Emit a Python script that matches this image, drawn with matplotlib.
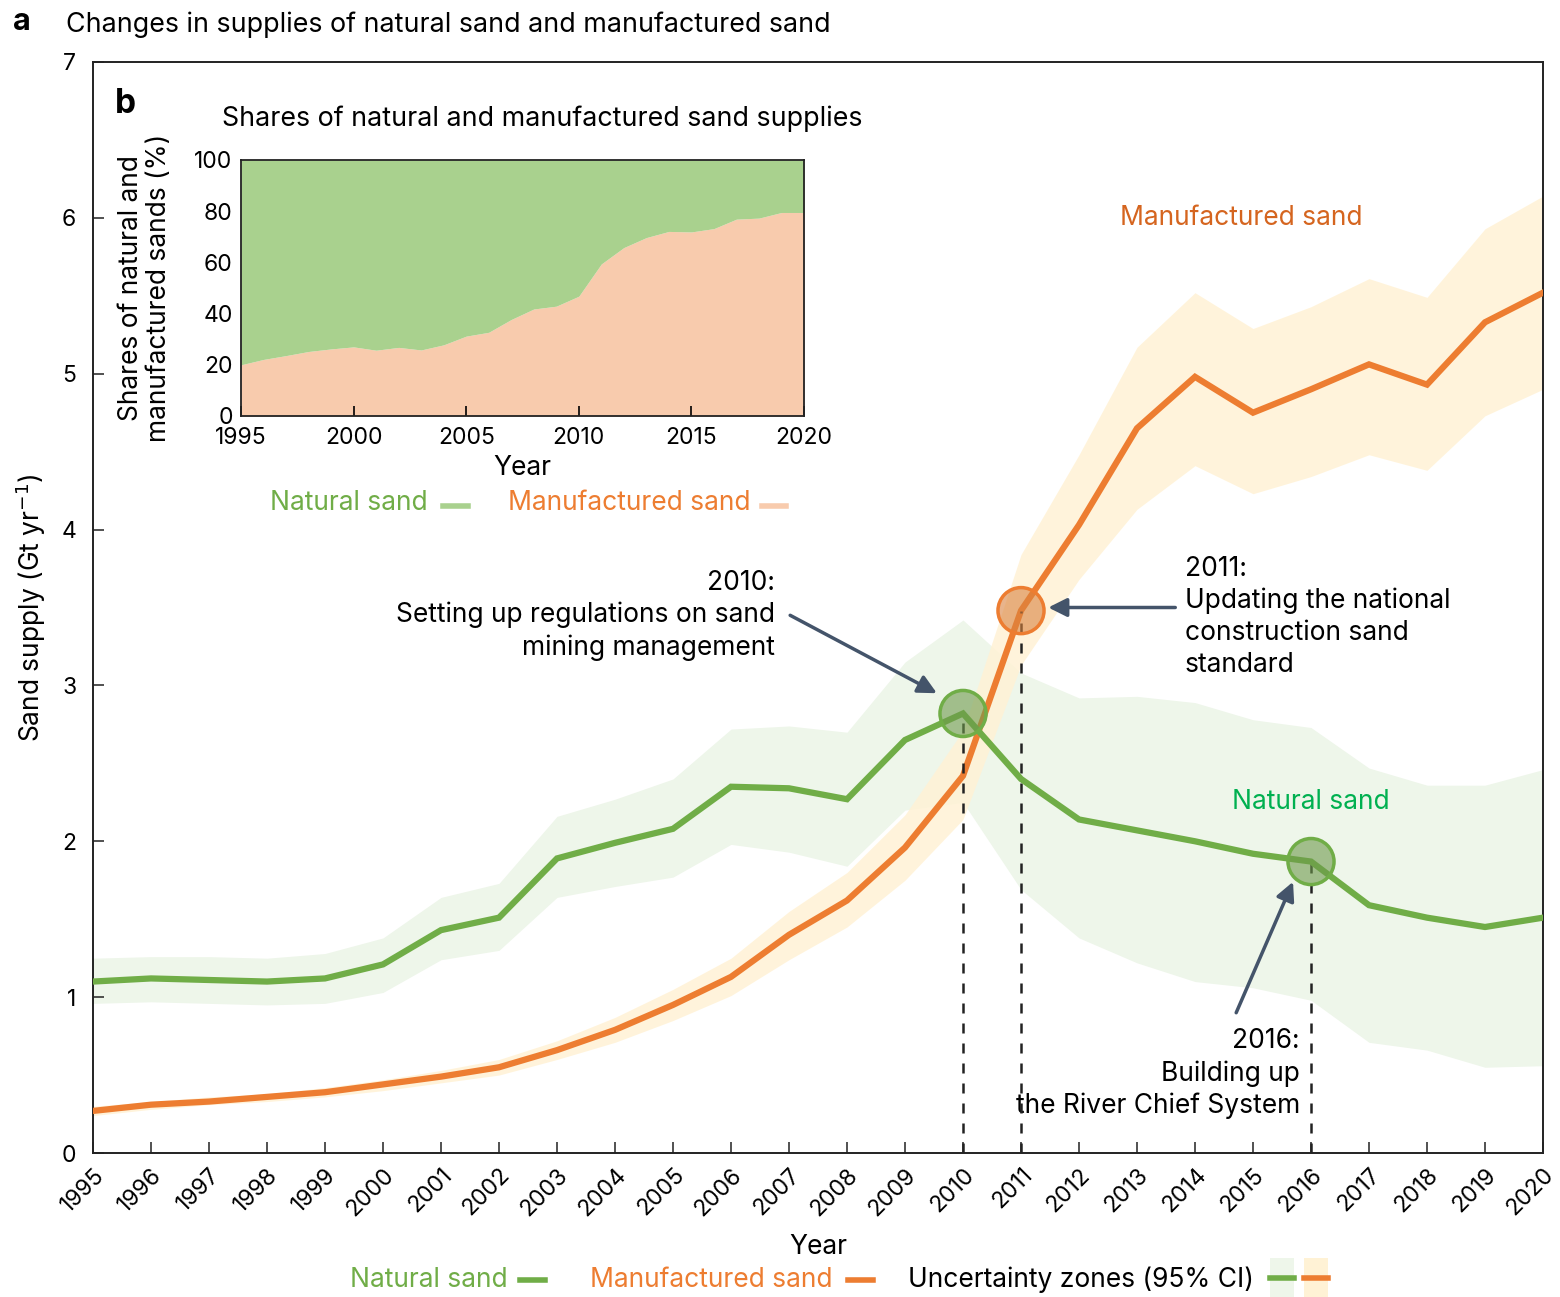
import numpy as np
import matplotlib.pyplot as plt
from matplotlib.patches import Rectangle
from matplotlib.lines import Line2D

plt.rcParams['font.family'] = ['Inter', 'DejaVu Sans']

years = list(range(1995, 2021))

# supply of natural sand (Gt/yr) and 95% CI
natural = [1.10, 1.12, 1.11, 1.10, 1.12, 1.21, 1.43, 1.51, 1.89, 1.99, 2.08, 2.35, 2.34,
           2.27, 2.65, 2.82, 2.40, 2.14, 2.07, 2.00, 1.92, 1.87, 1.59, 1.51, 1.45, 1.51]
natural_hi = [1.25, 1.26, 1.26, 1.25, 1.28, 1.38, 1.64, 1.73, 2.16, 2.27, 2.40, 2.72, 2.74,
              2.70, 3.15, 3.42, 3.08, 2.92, 2.93, 2.89, 2.78, 2.73, 2.47, 2.36, 2.36, 2.46]
natural_lo = [0.96, 0.97, 0.96, 0.95, 0.96, 1.03, 1.24, 1.30, 1.64, 1.71, 1.77, 1.98, 1.93,
              1.84, 2.20, 2.25, 1.69, 1.38, 1.22, 1.10, 1.06, 0.98, 0.71, 0.66, 0.55, 0.56]

# supply of manufactured sand (Gt/yr) and 95% CI
manufactured = [0.27, 0.31, 0.33, 0.36, 0.39, 0.44, 0.49, 0.55, 0.66, 0.79, 0.95, 1.13, 1.40,
                1.62, 1.96, 2.42, 3.48, 4.03, 4.65, 4.98, 4.75, 4.90, 5.06, 4.93, 5.33, 5.52]
manufactured_hi = [0.30, 0.33, 0.36, 0.38, 0.42, 0.47, 0.53, 0.60, 0.72, 0.87, 1.05, 1.25, 1.55,
                   1.80, 2.17, 2.71, 3.84, 4.48, 5.17, 5.52, 5.29, 5.43, 5.61, 5.49, 5.93, 6.14]
manufactured_lo = [0.24, 0.28, 0.31, 0.33, 0.36, 0.40, 0.45, 0.50, 0.60, 0.71, 0.85, 1.01, 1.24,
                   1.45, 1.75, 2.14, 3.13, 3.68, 4.13, 4.41, 4.23, 4.34, 4.48, 4.38, 4.73, 4.90]

# inset: share of manufactured sand (%)
share_manufactured = [20.0, 22.1, 23.6, 25.2, 26.2, 27.0, 25.7, 26.8, 25.8, 27.8, 31.2, 32.7, 37.7,
                      41.8, 42.9, 46.8, 59.4, 65.8, 69.7, 72.1, 71.9, 73.2, 76.9, 77.3, 79.5, 79.5]

GREEN = '#70AD47'
ORANGE = '#ED7D31'
GREEN_BAND = '#EEF6EA'
ORANGE_BAND = '#FFF2D5'
ARROW = '#44546A'
FS = 19
TFS = 16.5

fig = plt.figure(figsize=(15.6, 12.97), dpi=100)
W, H = 1560.0, 1297.0

def fx(px):
    return px / W

def fy(py):
    return 1 - py / H

ax = fig.add_axes([fx(93), fy(1153), fx(1543) - fx(93), fy(62) - fy(1153)])

ax.fill_between(years, natural_lo, natural_hi, color=GREEN_BAND, lw=0, zorder=1)
ax.fill_between(years, manufactured_lo, manufactured_hi, color=ORANGE_BAND, lw=0, alpha=0.85, zorder=2)
ax.plot(years, natural, color=GREEN, lw=4.5, zorder=4, solid_joinstyle='miter')
ax.plot(years, manufactured, color=ORANGE, lw=4.5, zorder=3, solid_joinstyle='miter')

# event markers + dashed drop lines
events = [(2010, natural, GREEN, '#6E9A4C'), (2011, manufactured, ORANGE, '#D9833F'),
          (2016, natural, GREEN, '#6E9A4C')]
for yr, series, edge, face in events:
    v = series[years.index(yr)]
    ax.plot([yr, yr], [0, v], ls=(0, (4, 4)), color='#222222', lw=1.8, zorder=3.5)
    ax.scatter([yr], [v], s=1100, facecolor=face, edgecolor='none', alpha=0.6, zorder=6)
    ax.scatter([yr], [v], s=1100, facecolor='none', edgecolor=edge, linewidth=2.5, zorder=6)

ax.set_xlim(1995, 2020)
ax.set_ylim(0, 7)
ax.set_xticks(years)
ax.set_xticklabels([str(y) for y in years], rotation=45, ha='right', va='top',
                   rotation_mode='anchor', fontsize=TFS)
ax.set_yticks(range(0, 8))
ax.tick_params(axis='both', direction='in', length=8, width=1.2, labelsize=TFS, color='#333333')
ax.tick_params(axis='y', pad=12)
ax.tick_params(axis='x', pad=8)
for sp in ax.spines.values():
    sp.set_linewidth(1.4)
    sp.set_color('#222222')
ax.set_xlabel('Year', fontsize=FS, labelpad=10)
ax.set_ylabel('Sand supply (Gt yr$^{-1}$)', fontsize=FS, labelpad=10)

# series labels
ax.text(2014.8, 6.0, 'Manufactured sand', color='#D5651F', fontsize=FS, ha='center', va='center')
ax.text(2016.0, 2.25, 'Natural sand', color='#00B050', fontsize=FS, ha='center', va='center')

arrow_kw = dict(arrowstyle='-|>', color=ARROW, lw=2.5, mutation_scale=28, shrinkA=0, shrinkB=0)

# annotations
ax.annotate('', xy=(2009.55, 2.95), xytext=(2007.02, 3.45), arrowprops=arrow_kw, zorder=7)
ax.text(2006.76, 3.74, '2010:\nSetting up regulations on sand\nmining management', fontsize=FS,
        ha='right', va='top', multialignment='right', linespacing=1.28)
ax.annotate('', xy=(2011.47, 3.50), xytext=(2013.66, 3.50), arrowprops=arrow_kw, zorder=7)
ax.text(2013.82, 3.83, '2011:\nUpdating the national\nconstruction sand\nstandard', fontsize=FS,
        ha='left', va='top', linespacing=1.28)
ax.annotate('', xy=(2015.69, 1.74), xytext=(2014.71, 0.90), arrowprops=arrow_kw, zorder=7)
ax.text(2015.81, 0.80, '2016:\nBuilding up\nthe River Chief System', fontsize=FS,
        ha='right', va='top', multialignment='right', linespacing=1.28)

# panel titles
fig.text(fx(13), fy(22), 'a', fontsize=22, fontweight='bold', va='center', ha='left')
fig.text(fx(66), fy(25), 'Changes in supplies of natural sand and manufactured sand',
         fontsize=19.3, va='center', ha='left')
fig.text(fx(115), fy(104), 'b', fontsize=24, fontweight='bold', va='center', ha='left')
fig.text(fx(222), fy(119), 'Shares of natural and manufactured sand supplies',
         fontsize=19.3, va='center', ha='left')

# inset
axi = fig.add_axes([fx(241), fy(416), fx(804) - fx(241), fy(160) - fy(416)])
axi.fill_between(years, 0, share_manufactured, color='#F8CBAD', lw=0)
axi.fill_between(years, share_manufactured, 100, color='#A9D18E', lw=0)
axi.set_xlim(1995, 2020)
axi.set_ylim(0, 100)
axi.set_xticks([1995, 2000, 2005, 2010, 2015, 2020])
axi.set_yticks([0, 20, 40, 60, 80, 100])
axi.tick_params(axis='x', direction='in', length=7, width=1.2, labelsize=TFS, pad=8)
axi.tick_params(axis='y', length=0, labelsize=TFS, pad=6)
for sp in axi.spines.values():
    sp.set_linewidth(1.3)
    sp.set_color('#222222')
axi.set_xlabel('Year', fontsize=FS, labelpad=4)
axi.set_ylabel('Shares of natural and\nmanufactured sands (%)', fontsize=FS, labelpad=16,
               linespacing=1.1)

# inset legend
fig.text(fx(428), fy(503), 'Natural sand', color=GREEN, fontsize=FS, ha='right', va='center')
fig.add_artist(Line2D([fx(443), fx(468)], [fy(506), fy(506)], color='#A9D18E', lw=4))
fig.text(fx(750), fy(503), 'Manufactured sand', color=ORANGE, fontsize=FS, ha='right', va='center')
fig.add_artist(Line2D([fx(762), fx(786)], [fy(506), fy(506)], color='#F8CBAD', lw=4))

# bottom legend
ly = 1280
fig.text(fx(508), fy(ly), 'Natural sand', color=GREEN, fontsize=FS, ha='right', va='center')
fig.add_artist(Line2D([fx(520), fx(545)], [fy(ly), fy(ly)], color=GREEN, lw=4))
fig.text(fx(832), fy(ly), 'Manufactured sand', color=ORANGE, fontsize=FS, ha='right', va='center')
fig.add_artist(Line2D([fx(848), fx(873)], [fy(ly), fy(ly)], color=ORANGE, lw=4))
fig.text(fx(1254), fy(ly), 'Uncertainty zones (95% CI)', color='black', fontsize=FS,
         ha='right', va='center')
fig.add_artist(Rectangle((fx(1270), fy(1297)), fx(24), fy(1258) - fy(1297),
                         transform=fig.transFigure, color=GREEN_BAND, lw=0))
fig.add_artist(Line2D([fx(1270), fx(1294)], [fy(1278), fy(1278)], color=GREEN, lw=4))
fig.add_artist(Rectangle((fx(1304), fy(1297)), fx(24), fy(1258) - fy(1297),
                         transform=fig.transFigure, color=ORANGE_BAND, lw=0))
fig.add_artist(Line2D([fx(1304), fx(1328)], [fy(1278), fy(1278)], color=ORANGE, lw=4))

fig.savefig('out.png', dpi=100)
